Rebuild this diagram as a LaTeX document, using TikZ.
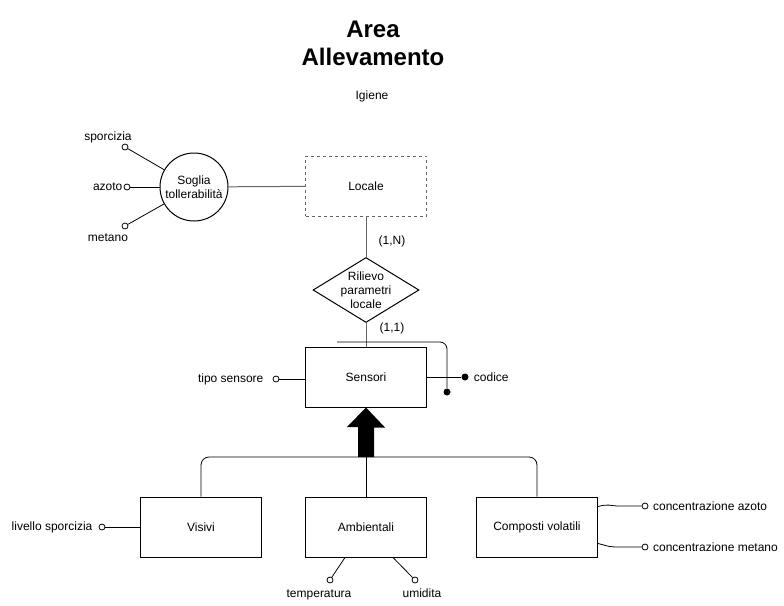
\documentclass[tikz,border=0pt]{standalone}
\usepackage{fontspec}
\setmainfont{Liberation Sans}
\usetikzlibrary{%
    calc,%
    positioning,%
    shapes.geometric
}
\tikzset{%
    txt/.style={font=\fontsize{12}{14}\selectfont,inner sep=1pt},
    entity/.style={txt,draw=black,line width=1pt,minimum width=121,minimum height=60},
    weakentity/.style={entity,draw=black!60,dash pattern=on 3pt off 3pt},
    relbox/.style={diamond,draw=black,line width=1pt,minimum width=106,minimum height=65,inner sep=0pt},
    multiattr/.style={circle,txt,draw=black,line width=1pt,minimum size=68,inner sep=0pt},
    attr/.style={circle,draw=black,fill=white,line width=0.8pt,minimum size=6,inner sep=0pt},
    keyattr/.style={circle,fill=black,minimum size=7,inner sep=0pt},
    link/.style={draw=black!60,line width=1pt},
    attrlink/.style={draw=black,line width=0.8pt}
}

\begin{document}
\begin{tikzpicture}[x=1pt,y=-1pt]
    \useasboundingbox (0,0) rectangle (784,605);

    % Title
    \node[font=\bfseries\fontsize{24}{28}\selectfont,align=center] (title) at (373,43) {Area\\Allevamento};
    \node[txt] (igiene) at (372,96) {Igiene};

    % Entities and relationship
    \node[multiattr,align=center] (soglia) at (194,187) {Soglia\\tollerabilità};
    \node[weakentity] (locale) at (366,186) {Locale};
    \node[relbox] (rilievo) at (366,290) {};
    \node[txt,align=center] (rilievotxt) at (rilievo) {Rilievo\\parametri\\locale};
    \node[entity] (sensori) at (366,377) {Sensori};
    \node[entity] (visivi) at (201,527) {Visivi};
    \node[entity] (ambientali) at (366,527) {Ambientali};
    \node[entity] (composti) at (537,527) {Composti volatili};

    % Attributes of the threshold
    \node[attr] (spo) at (125,147) {};
    \node[attr] (azo) at (127,187) {};
    \node[attr] (met) at (125,226) {};
    \node[txt] (spotxt) at (108,137) {sporcizia};
    \node[txt,left=0pt of azo] (azotxt) {azoto};
    \node[txt] (mettxt) at (108,238) {metano};
    \foreach \a in {spo,azo,met}%
    {%
        \draw[attrlink] (\a) -- (soglia);
    }

    % Connections between entities
    \draw[link] (soglia) -- (locale);
    \draw[link] (locale) -- (rilievo);
    \draw[link] (rilievo) -- (sensori);
    \node[txt] (card1n) at (392,241) {(1,N)};
    \node[txt] (card11) at (392,328) {(1,1)};

    % External identifier of sensori
    \node[keyattr] (kdot) at (447,392) {};
    \coordinate (idstart) at (337,342);
    \draw[attrlink,rounded corners=7] (idstart) -- (idstart -| kdot) -- (kdot);

    % Attributes of sensori
    \node[keyattr] (cod) at (465,377) {};
    \node[txt,right=4pt of cod] (codtxt) {codice};
    \draw[attrlink] (sensori) -- (cod);
    \node[attr] (tipo) at (276,379) {};
    \node[txt,left=8pt of tipo] (tipotxt) {tipo sensore};
    \draw[attrlink] (tipo) -- (tipo -| sensori.west);

    % Generalisation
    \coordinate (isa) at (366,457);
    \fill[black] (sensori.south) -- ++(19,20) -- ++(-11,0) -- ($(isa)+(8,0)$)
        -- ($(isa)+(-8,0)$) -- ++(0,-30) -- ++(-11,0) -- cycle;
    \draw[attrlink,rounded corners=8] (visivi.north) -- (visivi.north |- isa)
        -- (composti.north |- isa) -- (composti.north);
    \draw[attrlink] (ambientali.north) -- (isa);

    % Attributes of the children
    \node[attr] (liv) at (102,527) {};
    \node[txt,left=5pt of liv] (livtxt) {livello sporcizia};
    \draw[attrlink] (liv) -- (visivi);

    \node[attr] (temp) at (330,580) {};
    \node[attr] (umi) at (415,580) {};
    \node[txt,anchor=base] (temptxt) at (319,597) {temperatura};
    \node[txt,anchor=base] (umitxt) at (422,597) {umidita};
    \draw[attrlink] ($(ambientali.south)+(-21,0)$) -- (temp);
    \draw[attrlink] ($(ambientali.south)+(27,0)$) -- (umi);

    \node[attr] (cazo) at (645,506) {};
    \node[attr] (cmet) at (645,547) {};
    \node[txt,right=3.5pt of cazo] (cazotxt) {concentrazione azoto};
    \node[txt,right=3.5pt of cmet] (cmettxt) {concentrazione metano};
    \draw[attrlink] ($(composti.north east)+(0,10)$) .. controls +(12,-3) and +(-12,0)
        .. ($(cazo)+(-25,0)$) -- (cazo);
    \draw[attrlink] ($(composti.south east)+(0,-14)$) .. controls +(12,3) and +(-12,0)
        .. ($(cmet)+(-25,0)$) -- (cmet);
\end{tikzpicture}
\end{document}
